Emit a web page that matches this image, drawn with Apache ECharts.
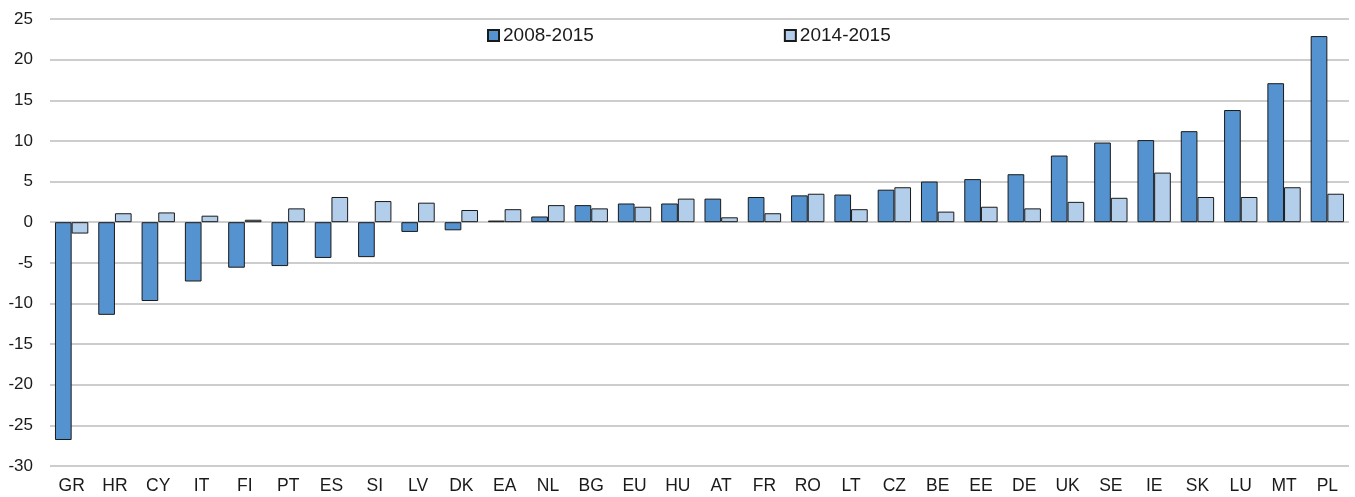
<!DOCTYPE html>
<html>
<head>
<meta charset="utf-8">
<script src="https://cdn.jsdelivr.net/npm/echarts@6/dist/echarts.min.js"></script>
<style>
html,body{margin:0;padding:0;background:#fff;}
#chart{width:1355px;height:497px;}
</style>
</head>
<body>
<div id="chart"></div>
<script>
const categories = ['GR','HR','CY','IT','FI','PT','ES','SI','LV','DK','EA','NL','BG','EU','HU','AT','FR','RO','LT','CZ','BE','EE','DE','UK','SE','IE','SK','LU','MT','PL'];
const series2008_2015 = [-26.8,-11.4,-9.7,-7.3,-5.6,-5.4,-4.4,-4.3,-1.2,-1.0,0.2,0.7,2.1,2.3,2.3,2.9,3.1,3.3,3.4,4.0,5.0,5.3,5.9,8.2,9.8,10.1,11.2,13.8,17.1,22.9];
const series2014_2015 = [-1.4,1.1,1.2,0.8,0.3,1.7,3.1,2.6,2.4,1.5,1.6,2.1,1.7,1.9,2.9,0.6,1.1,3.5,1.6,4.3,1.3,1.9,1.7,2.5,3.0,6.1,3.1,3.1,4.3,3.5];
const seriesNames = ['2008-2015','2014-2015'];

const chart = echarts.init(document.getElementById('chart'));
const font = 'Arial, "Liberation Sans", sans-serif';
chart.setOption({
  animation: false,
  textStyle: {fontFamily: font},
  legend: {
    left: 482, top: 21,
    itemWidth: 11, itemHeight: 11, itemGap: 190,
    icon: 'rect',
    textStyle: {fontSize: 19, color: '#1a1a1a', fontFamily: font, padding: [0,0,0,-1]},
    data: seriesNames
  },
  grid: {left: 50, right: 6, top: 19, bottom: 31, containLabel: false},
  xAxis: {
    type: 'category',
    data: categories,
    axisLine: {show: false},
    axisTick: {show: false},
    axisLabel: {fontSize: 17.5, color: '#1a1a1a', margin: 11, fontFamily: font}
  },
  yAxis: {
    type: 'value',
    min: -30, max: 25, interval: 5,
    axisLine: {show: false},
    axisTick: {show: false},
    axisLabel: {fontSize: 17, color: '#1a1a1a', margin: 17, fontFamily: font},
    splitLine: {lineStyle: {color: '#BDBDBD', width: 1.5}}
  },
  series: [
    {
      name: seriesNames[0], type: 'bar', data: series2008_2015,
      barGap: '0%', barCategoryGap: '23%',
      itemStyle: {color: '#5592D0', borderColor: '#1a1a1a', borderWidth: 1}
    },
    {
      name: seriesNames[1], type: 'bar', data: series2014_2015,
      barGap: '0%', barCategoryGap: '23%',
      itemStyle: {color: '#B3CEEA', borderColor: '#1a1a1a', borderWidth: 1}
    }
  ]
});
</script>
</body>
</html>
